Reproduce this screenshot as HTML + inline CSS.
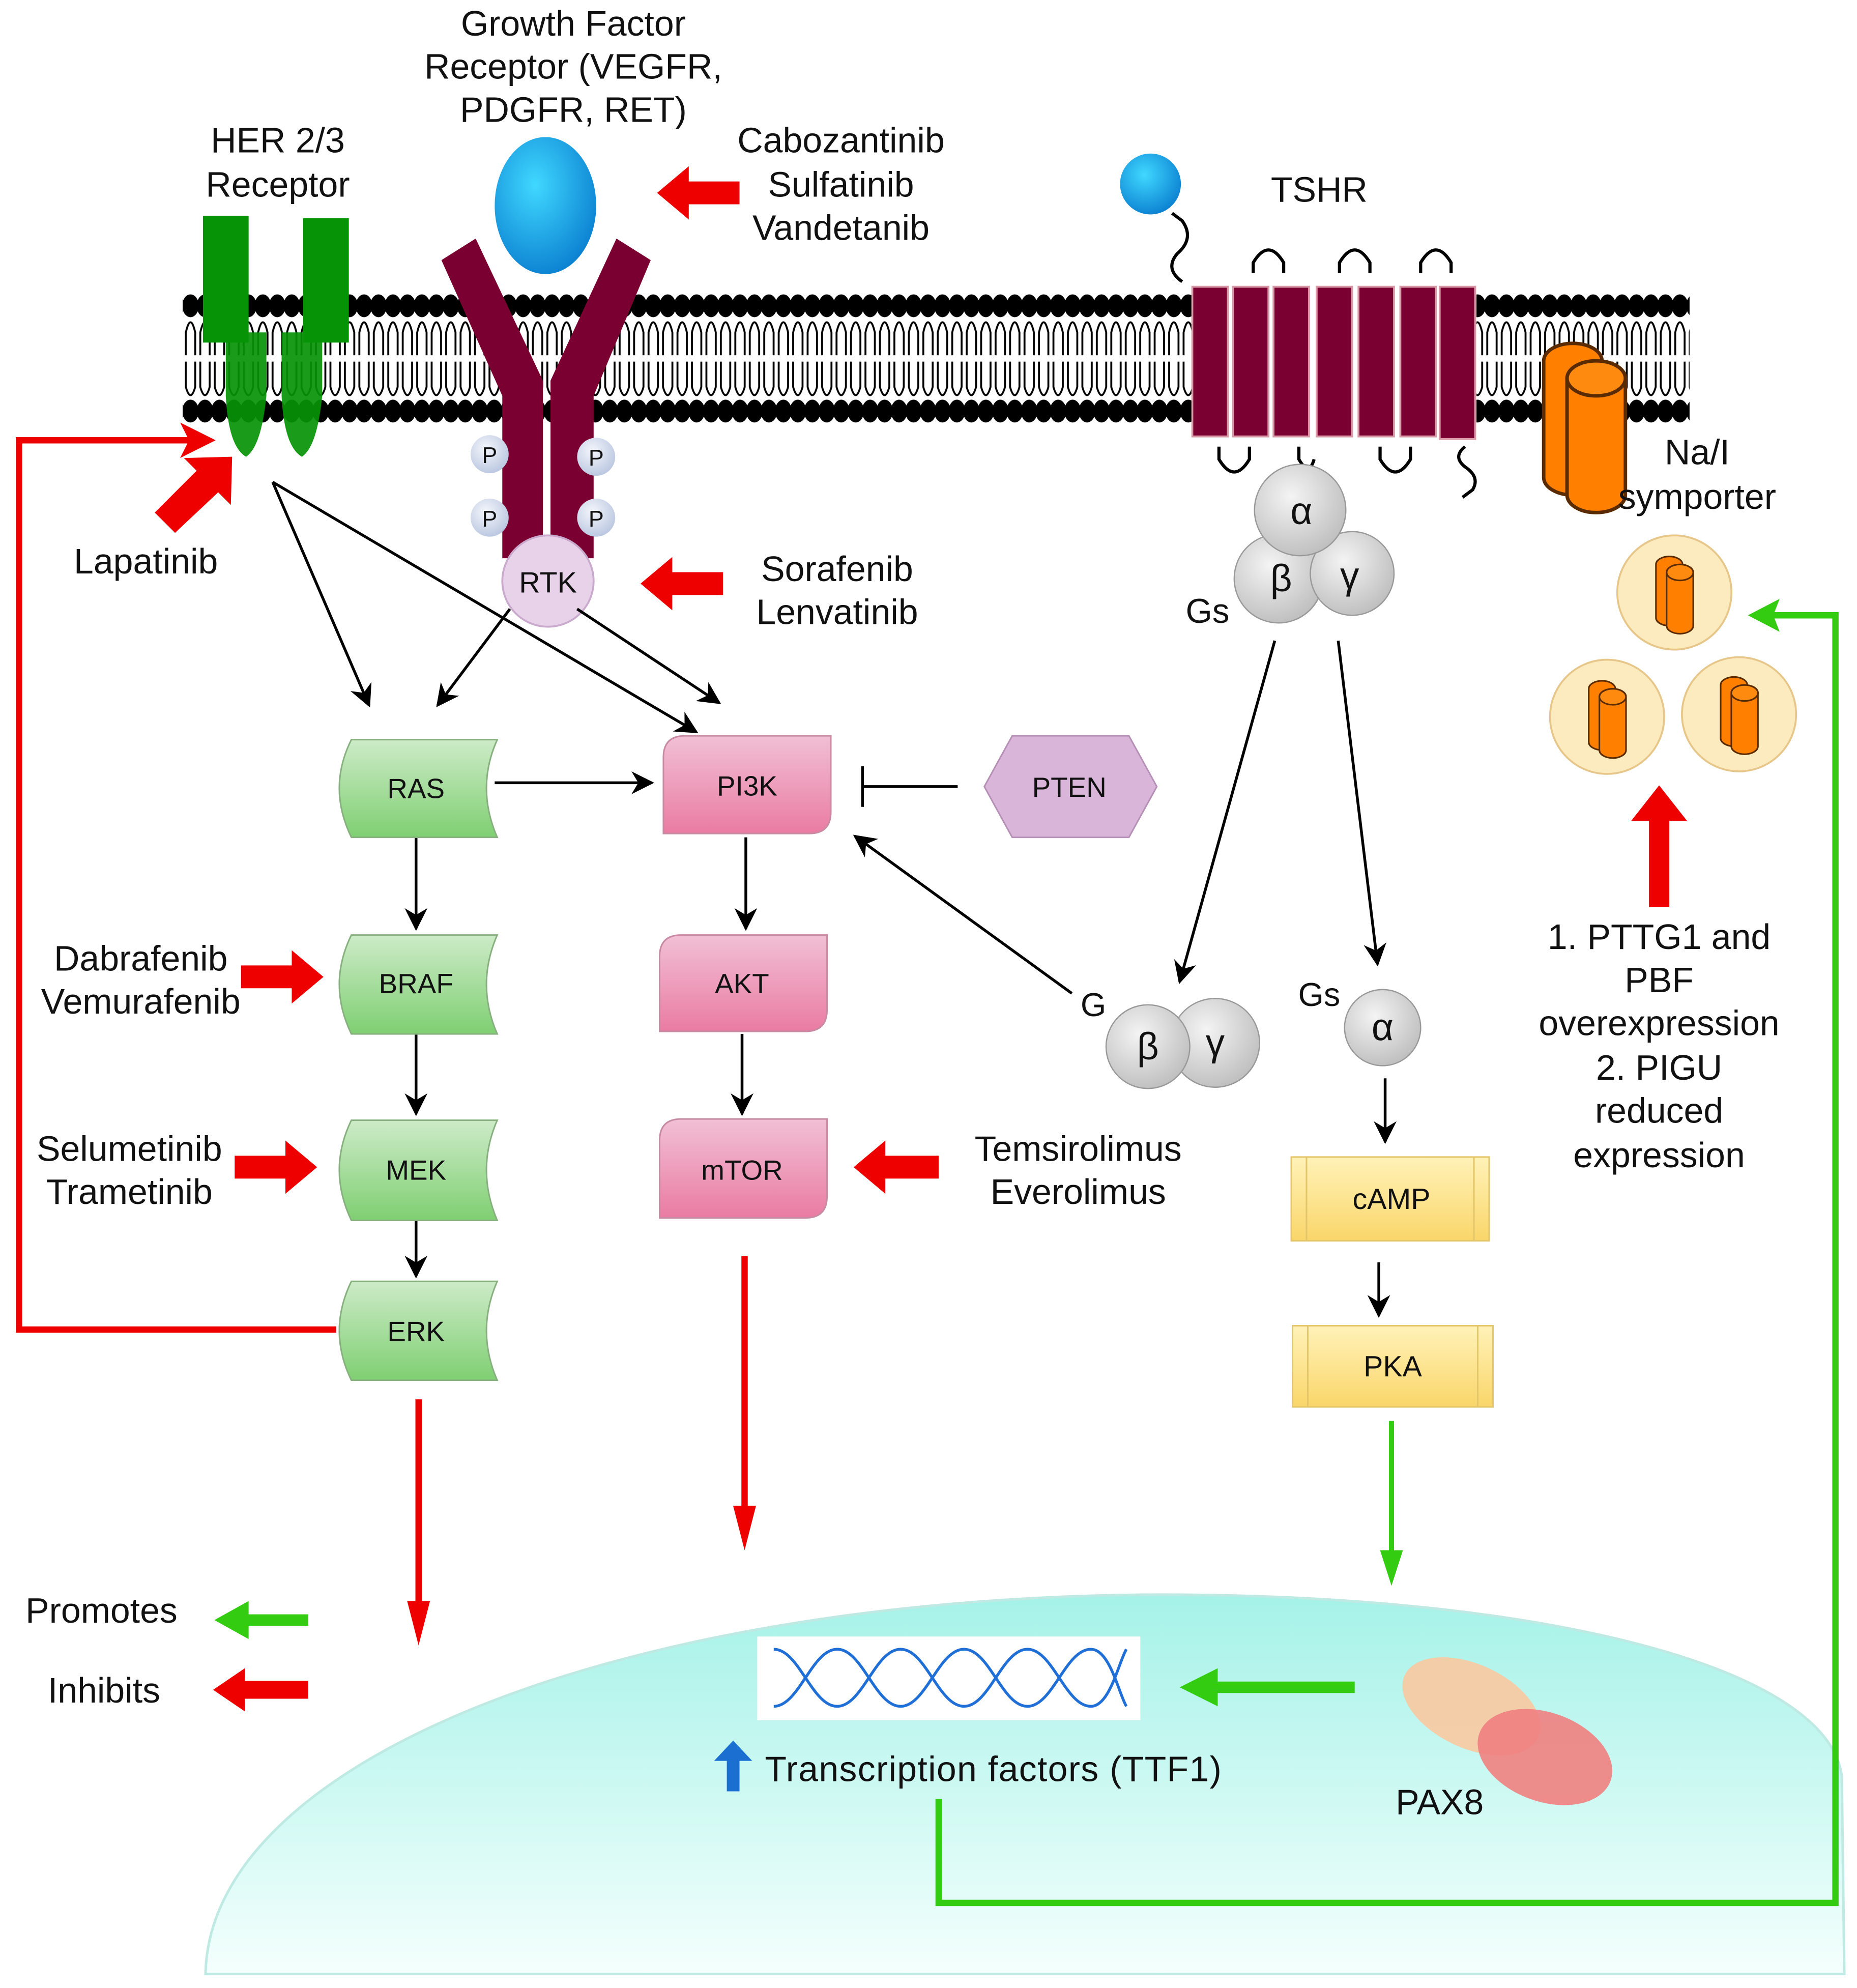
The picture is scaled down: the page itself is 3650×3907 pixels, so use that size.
<!DOCTYPE html>
<html><head><meta charset="utf-8"><style>html,body{margin:0;padding:0;background:#fff}svg{display:block}text{font-family:"Liberation Sans",Arial,sans-serif;fill:#111}</style></head><body>
<svg width="3650" height="3907" viewBox="0 0 1464 1567" xmlns="http://www.w3.org/2000/svg">
<defs>
<radialGradient id="blue" cx="0.4" cy="0.35" r="0.7"><stop offset="0" stop-color="#40d8ff"/><stop offset="1" stop-color="#0a7fd0"/></radialGradient>
<radialGradient id="grey" cx="0.4" cy="0.35" r="0.7"><stop offset="0" stop-color="#f4f4f4"/><stop offset="1" stop-color="#bdbdbd"/></radialGradient>
<radialGradient id="pc" cx="0.4" cy="0.35" r="0.7"><stop offset="0" stop-color="#f4f6fb"/><stop offset="1" stop-color="#b9c6e0"/></radialGradient>
<linearGradient id="gr" x1="0" y1="0" x2="0" y2="1"><stop offset="0" stop-color="#cdebc8"/><stop offset="1" stop-color="#7fcf72"/></linearGradient>
<linearGradient id="pk" x1="0" y1="0" x2="0" y2="1"><stop offset="0" stop-color="#f1c0d5"/><stop offset="1" stop-color="#ea7ba2"/></linearGradient>
<linearGradient id="yl" x1="0" y1="0" x2="0" y2="1"><stop offset="0" stop-color="#fff2b8"/><stop offset="1" stop-color="#fad66a"/></linearGradient>
<linearGradient id="nuc" x1="0" y1="0" x2="0" y2="1"><stop offset="0" stop-color="#a5f2e8"/><stop offset="1" stop-color="#f4fffd"/></linearGradient>
<marker id="abig" viewBox="0 0 10 10" refX="9" refY="5" markerWidth="18" markerHeight="18" orient="auto" markerUnits="userSpaceOnUse"><path d="M0,0 L10,5 L0,10 L3,5Z" fill="#000"/></marker>
<g id="cyl"><path d="M-10,-22 a10,6 0 0 1 20,0 v40 a10,6 0 0 1 -20,0z" fill="#ff8000" stroke="#5a2a00" stroke-width="1.2"/><path d="M-2,-16 a10,6 0 0 1 20,0 v40 a10,6 0 0 1 -20,0z" fill="#ff8000" stroke="#5a2a00" stroke-width="1.2"/><ellipse cx="8" cy="-16" rx="10" ry="6" fill="#ff8a10" stroke="#5a2a00" stroke-width="1.2"/></g>
<pattern id="heads" x="144.5" y="0" width="11.4" height="1567" patternUnits="userSpaceOnUse">
<ellipse cx="5.7" cy="241" rx="6.5" ry="9" fill="#000"/><ellipse cx="5.7" cy="324" rx="6.5" ry="9" fill="#000"/>
</pattern>
<pattern id="tails" x="144.5" y="0" width="11.4" height="1567" patternUnits="userSpaceOnUse">
<path d="M2,280 V262 Q5.7,246 9.4,262 V280 M2,285 V305 Q5.7,318 9.4,305 V285" fill="none" stroke="#000" stroke-width="1.5"/>
</pattern>
</defs>

<path d="M162,1556 C165,1390 480,1262 900,1257 C1200,1255 1440,1310 1452,1400 L1454,1556 Z" fill="url(#nuc)" stroke="#bfe9e3" stroke-width="2"/>

<rect x="144" y="230" width="800" height="105" fill="url(#heads)"/>
<rect x="1164" y="230" width="168" height="105" fill="url(#heads)"/>
<rect x="144" y="245" width="800" height="75" fill="url(#tails)"/>
<rect x="1164" y="245" width="168" height="75" fill="url(#tails)"/>

<rect x="160" y="170" width="36" height="100" fill="#069406"/>
<rect x="239" y="172" width="36" height="98" fill="#069406"/>
<path d="M178,262 h32 v50 q-4,40 -16,48 q-14,-8 -16,-48z" fill="#069406" opacity="0.92"/>
<path d="M222,262 h32 v50 q-4,40 -16,48 q-14,-8 -16,-48z" fill="#069406" opacity="0.92"/>

<path d="M348,205 L375,188 L428,300 L428,440 L396,440 L396,312 Z" fill="#7a0032"/>
<path d="M513,205 L486,188 L434,300 L434,440 L468,440 L468,312 Z" fill="#7a0032"/>
<ellipse cx="430" cy="162" rx="40" ry="54" fill="url(#blue)"/>
<g font-size="18" text-anchor="middle">
<circle cx="386" cy="358" r="15" fill="url(#pc)"/><text x="386" y="365">P</text>
<circle cx="470" cy="360" r="15" fill="url(#pc)"/><text x="470" y="367">P</text>
<circle cx="386" cy="408" r="15" fill="url(#pc)"/><text x="386" y="415">P</text>
<circle cx="470" cy="408" r="15" fill="url(#pc)"/><text x="470" y="415">P</text>
</g>
<circle cx="432" cy="458" r="36" fill="#e8d2ea" stroke="#c9aacd" stroke-width="1.5"/>
<text x="432" y="467" font-size="23" text-anchor="middle">RTK</text>

<circle cx="907" cy="145" r="24" fill="url(#blue)"/>
<path d="M932,222 q-14,-10 -4,-22 q14,-12 4,-26 l-8,-6" fill="none" stroke="#000" stroke-width="2.5"/>
<g fill="#7a0032" stroke="#d99aa8" stroke-width="1.5">
<rect x="940" y="226" width="28" height="118"/><rect x="972" y="226" width="28" height="118"/><rect x="1004" y="226" width="28" height="118"/><rect x="1038" y="226" width="28" height="118"/><rect x="1071" y="226" width="28" height="118"/><rect x="1104" y="226" width="28" height="118"/><rect x="1135" y="226" width="28" height="120"/>
</g>
<g fill="none" stroke="#000" stroke-width="2.5">
<path d="M988,215 v-8 q12,-20 24,0 v8"/><path d="M1056,215 v-8 q12,-20 24,0 v8"/><path d="M1120,215 v-8 q12,-20 24,0 v8"/>
<path d="M961,352 v10 q12,20 24,0 v-10"/><path d="M1024,352 v10 q8,14 12,0"/><path d="M1088,352 v10 q12,20 24,0 v-10"/>
<path d="M1155,352 q-10,8 0,16 q12,8 6,18 l-8,6"/>
</g>
<text x="1040" y="159" font-size="28" text-anchor="middle">TSHR</text>

<circle cx="1008" cy="456" r="35" fill="url(#grey)" stroke="#999" stroke-width="1"/>
<circle cx="1066" cy="452" r="33" fill="url(#grey)" stroke="#999" stroke-width="1"/>
<circle cx="1025" cy="402" r="36" fill="url(#grey)" stroke="#999" stroke-width="1"/>
<g font-size="30" text-anchor="middle"><text x="1026" y="413">α</text><text x="1010" y="466">β</text><text x="1064" y="464">γ</text></g>
<text x="952" y="491" font-size="27" text-anchor="middle">Gs</text>

<g transform="translate(1240,335) scale(2.3)"><use href="#cyl"/></g>
<text x="1338" y="366" font-size="28" text-anchor="middle">Na/I</text>
<text x="1338" y="401" font-size="28" text-anchor="middle">symporter</text>
<g fill="#fdebc0" stroke="#e7c68a" stroke-width="1.5">
<circle cx="1320" cy="467" r="45"/><circle cx="1267" cy="565" r="45"/><circle cx="1371" cy="563" r="45"/>
</g>
<g transform="translate(1316,468) scale(1.05)"><use href="#cyl"/></g>
<g transform="translate(1263,566) scale(1.05)"><use href="#cyl"/></g>
<g transform="translate(1367,563) scale(1.05)"><use href="#cyl"/></g>

<g font-size="28" text-anchor="middle">
<text x="452" y="28">Growth Factor</text><text x="452" y="62">Receptor (VEGFR,</text><text x="452" y="96">PDGFR, RET)</text>
<text x="219" y="120">HER 2/3</text><text x="219" y="155">Receptor</text>
<text x="663" y="120">Cabozantinib</text><text x="663" y="155">Sulfatinib</text><text x="663" y="189">Vandetanib</text>
<text x="115" y="452">Lapatinib</text>
<text x="660" y="458">Sorafenib</text><text x="660" y="492">Lenvatinib</text>
<text x="111" y="765">Dabrafenib</text><text x="111" y="799">Vemurafenib</text>
<text x="102" y="915">Selumetinib</text><text x="102" y="949">Trametinib</text>
<text x="850" y="915">Temsirolimus</text><text x="850" y="949">Everolimus</text>
<text x="1308" y="748">1. PTTG1 and</text><text x="1308" y="782">PBF</text><text x="1308" y="816">overexpression</text><text x="1308" y="851">2. PIGU</text><text x="1308" y="885">reduced</text><text x="1308" y="920">expression</text>
</g>

<g fill="#ee0000">
<path d="M583,143 h-40 v-12 l-25,21 l25,21 v-12 h40z"/>
<path d="M570,451 h-40 v-12 l-25,21 l25,21 v-12 h40z"/>
<path d="M190,761 h40 v-12 l25,21 l-25,21 v-12 h-40z"/>
<path d="M185,911 h40 v-12 l25,21 l-25,21 v-12 h-40z"/>
<path d="M740,911 h-42 v-12 l-25,21 l25,21 v-12 h42z"/>
<path d="M1300,715 v-68 h-14 l22,-28 l22,28 h-14 v68z"/>
<path d="M122,404 L155,371 L145,361 L183,360 L182,398 L172,388 L138,420z"/>
<path d="M243,1325 h-50 v-10 l-25,17 l25,17 v-10 h50z"/>
</g>
<path d="M243,1277 h-52" stroke="#33cc11" stroke-width="9" fill="none"/><path d="M196,1262 l-27,15 l27,15z" fill="#33cc11"/>
<text x="80" y="1279" font-size="28" text-anchor="middle">Promotes</text>
<text x="82" y="1342" font-size="28" text-anchor="middle">Inhibits</text>

<path d="M265,1048 H15 V347 H150" fill="none" stroke="#ee0000" stroke-width="5"/>
<path d="M142,333 l28,14 l-28,14 l7,-14z" fill="#ee0000"/>
<path d="M330,1103 V1270" stroke="#ee0000" stroke-width="5"/><path d="M321,1262 h18 l-9,35z" fill="#ee0000"/>
<path d="M587,990 V1195" stroke="#ee0000" stroke-width="5"/><path d="M578,1187 h18 l-9,35z" fill="#ee0000"/>

<path d="M740,1418 V1500 H1447 V485 H1395" fill="none" stroke="#33cc11" stroke-width="5"/>
<path d="M1403,472 l-25,13 l25,13 l-5,-13z" fill="#33cc11"/>
<path d="M1097,1120 V1230" stroke="#33cc11" stroke-width="4"/><path d="M1088,1222 h18 l-9,28z" fill="#33cc11"/>
<path d="M1068,1330 H955" stroke="#33cc11" stroke-width="9"/><path d="M960,1315 l-30,15 l30,15z" fill="#33cc11"/>

<g stroke="#000" stroke-width="2.2" fill="none">
<path d="M215,380 L291,556" marker-end="url(#abig)"/>
<path d="M215,380 L549,577" marker-end="url(#abig)"/>
<path d="M402,480 L345,556" marker-end="url(#abig)"/>
<path d="M455,480 L567,554" marker-end="url(#abig)"/>
<path d="M390,617 L514,617" marker-end="url(#abig)"/>
<path d="M328,660 V732" marker-end="url(#abig)"/>
<path d="M328,815 V878" marker-end="url(#abig)"/>
<path d="M328,962 V1006" marker-end="url(#abig)"/>
<path d="M588,660 V732" marker-end="url(#abig)"/>
<path d="M585,815 V878" marker-end="url(#abig)"/>
<path d="M755,620 H680 M680,604 V636"/>
<path d="M845,783 L674,659" marker-end="url(#abig)"/>
<path d="M1005,505 L930,774" marker-end="url(#abig)"/>
<path d="M1055,505 L1086,760" marker-end="url(#abig)"/>
<path d="M1092,850 V900" marker-end="url(#abig)"/>
<path d="M1087,995 V1037" marker-end="url(#abig)"/>
</g>

<g fill="url(#gr)" stroke="#86b07e" stroke-width="1.2">
<path d="M277,583 H392 Q375,621 392,660 H277 Q258,621 277,583Z"/>
<path d="M277,737 H392 Q375,776 392,815 H277 Q258,776 277,737Z"/>
<path d="M277,883 H392 Q375,922 392,962 H277 Q258,922 277,883Z"/>
<path d="M277,1010 H392 Q375,1049 392,1088 H277 Q258,1049 277,1010Z"/>
</g>
<g font-size="22" text-anchor="middle"><text x="328" y="629">RAS</text><text x="328" y="783">BRAF</text><text x="328" y="930">MEK</text><text x="328" y="1057">ERK</text></g>
<g fill="url(#pk)" stroke="#c78aa2" stroke-width="1.2">
<path d="M540,580 H655 V640 Q655,657 638,657 H523 V597 Q523,580 540,580Z"/>
<path d="M537,737 H652 V796 Q652,813 635,813 H520 V754 Q520,737 537,737Z"/>
<path d="M537,882 H652 V943 Q652,960 635,960 H520 V899 Q520,882 537,882Z"/>
</g>
<g font-size="22" text-anchor="middle"><text x="589" y="627">PI3K</text><text x="585" y="783">AKT</text><text x="585" y="930">mTOR</text></g>
<path d="M798,580 H890 L912,620 L890,660 H798 L776,620Z" fill="#d9b6d9" stroke="#b58fb5" stroke-width="1.2"/>
<text x="843" y="628" font-size="22" text-anchor="middle">PTEN</text>

<circle cx="958" cy="822" r="35" fill="url(#grey)" stroke="#999"/>
<circle cx="905" cy="825" r="33" fill="url(#grey)" stroke="#999"/>
<g font-size="30" text-anchor="middle"><text x="905" y="835">β</text><text x="958" y="832">γ</text></g>
<text x="862" y="801" font-size="26" text-anchor="middle">G</text>
<circle cx="1090" cy="810" r="30" fill="url(#grey)" stroke="#999"/>
<text x="1090" y="820" font-size="30" text-anchor="middle">α</text>
<text x="1040" y="793" font-size="26" text-anchor="middle">Gs</text>

<g fill="url(#yl)" stroke="#e3c56a" stroke-width="1.2">
<rect x="1018" y="912" width="156" height="66"/><rect x="1019" y="1045" width="158" height="64"/>
</g>
<g stroke="#e3c56a" stroke-width="1.2"><path d="M1030,912 V978 M1162,912 V978 M1031,1045 V1109 M1165,1045 V1109"/></g>
<g font-size="23" text-anchor="middle"><text x="1097" y="953">cAMP</text><text x="1098" y="1085">PKA</text></g>

<rect x="597" y="1290" width="302" height="66" fill="#fff"/>
<g fill="none" stroke="#1f6fd6" stroke-width="2.2">
<path d="M610,1300 C630,1300 640,1345 660,1345 C680,1345 690,1300 710,1300 C730,1300 740,1345 760,1345 C780,1345 790,1300 810,1300 C830,1300 840,1345 860,1345 C875,1345 882,1310 888,1300"/>
<path d="M610,1345 C630,1345 640,1300 660,1300 C680,1300 690,1345 710,1345 C730,1345 740,1300 760,1300 C780,1300 790,1345 810,1345 C830,1345 840,1300 860,1300 C875,1300 882,1335 888,1345"/>
</g>
<path d="M573,1412 v-24 h-10 l15,-16 l15,16 h-10 v24z" fill="#1a6fd0"/>
<text x="603" y="1404" font-size="28" textLength="360">Transcription factors (TTF1)</text>

<ellipse cx="1160" cy="1345" rx="58" ry="33" transform="rotate(25 1160 1345)" fill="#f8c9a0" opacity="0.9"/>
<ellipse cx="1218" cy="1385" rx="55" ry="35" transform="rotate(20 1218 1385)" fill="#f08080" opacity="0.9"/>
<text x="1135" y="1430" font-size="28" text-anchor="middle">PAX8</text>
</svg>
</body></html>
